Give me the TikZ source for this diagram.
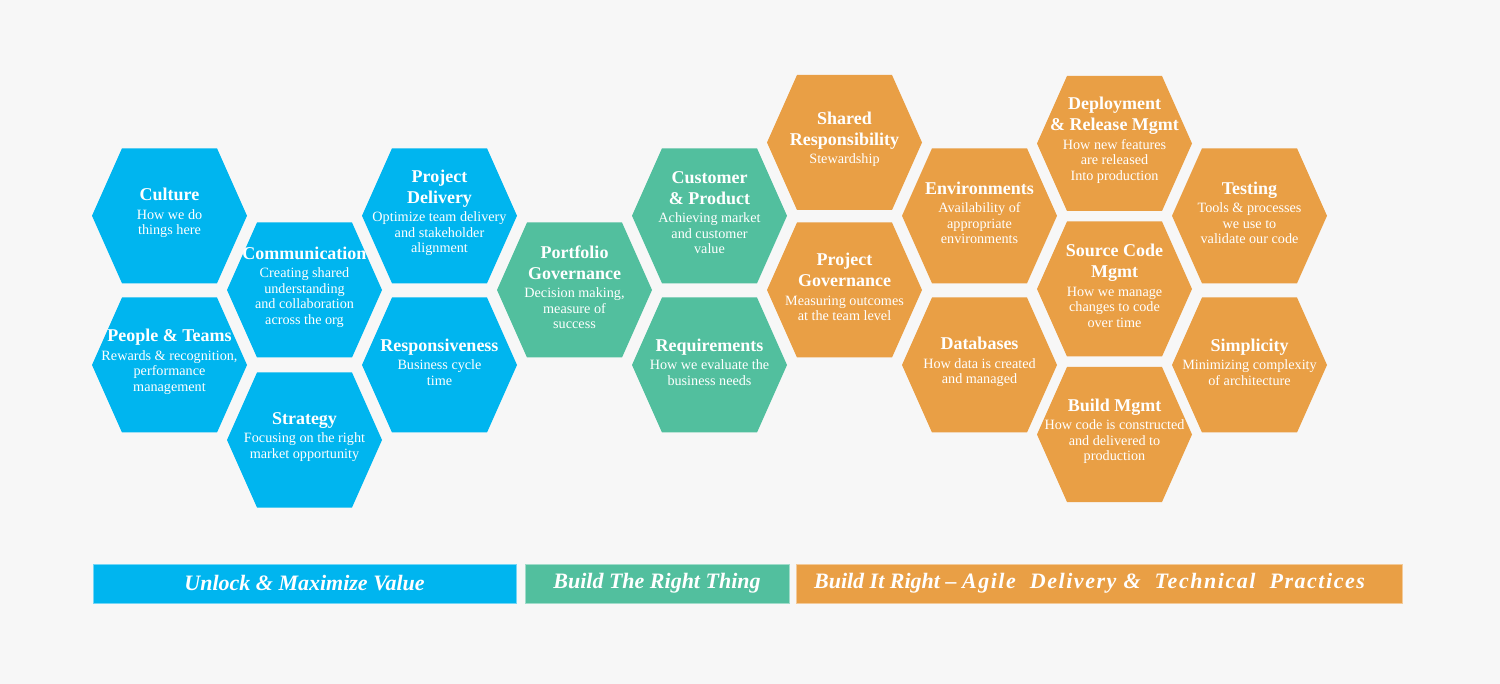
\documentclass[tikz,border=0pt]{standalone}
\usepackage{fontspec}
\setmainfont{Liberation Serif}

\definecolor{pagebg}{HTML}{F7F7F7}
\definecolor{valueblue}{HTML}{00B5EF}
\definecolor{thinggreen}{HTML}{52BF9E}
\definecolor{craftorange}{HTML}{E99F45}

\newcommand\hextitle{\fontsize{18}{21}\selectfont\bfseries}
\newcommand\hexbody{\normalfont\fontsize{14.2}{15.5}\selectfont}

\tikzset{
  hexlabel/.style={inner sep=0pt, text=white},
  barlabel/.style={inner sep=0pt, text=white,
    font=\fontsize{22}{24}\selectfont\bfseries\itshape},
}

% one hexagonal cell: name, x, y, colour, title, description
\newcommand\hexcell[6]{%
  \begin{scope}[shift={(#2,#3)}]
    \fill[#4] (-77.5,0) -- (-47.5,-67.5) -- (47.5,-67.5) -- (77.5,0)
              -- (47.5,67.5) -- (-47.5,67.5) -- cycle;
    \node[hexlabel] (#1) at (0,-3)
      {\parbox{220pt}{\centering{\hextitle #5\par}\vspace{3pt}{\hexbody #6\par}}};
  \end{scope}}

\begin{document}
\begin{tikzpicture}[x=1pt,y=-1pt]
  \fill[pagebg] (0,0) rectangle (1500,684);
  \useasboundingbox (0,0) rectangle (1500,684);

  % Unlock & Maximize Value
  \hexcell{culture}{169.5}{215.8}{valueblue}{Culture}{How we do\\things here}
  \hexcell{people}{169.5}{365}{valueblue}{People \& Teams}{Rewards \& recognition,\\performance\\management}
  \hexcell{communication}{304.5}{290}{valueblue}{Communication}{Creating shared\\understanding\\and collaboration\\across the org}
  \hexcell{strategy}{304.5}{440}{valueblue}{Strategy}{Focusing on the right\\market opportunity}
  \hexcell{projdelivery}{439.5}{215.8}{valueblue}{Project\\Delivery}{Optimize team delivery\\and stakeholder\\alignment}
  \hexcell{responsiveness}{439.5}{365}{valueblue}{Responsiveness}{Business cycle\\time}

  % Build The Right Thing
  \hexcell{portfolio}{574.5}{290}{thinggreen}{Portfolio\\Governance}{Decision making,\\measure of\\success}
  \hexcell{customer}{709.5}{215.8}{thinggreen}{Customer\\\& Product}{Achieving market\\and customer\\value}
  \hexcell{requirements}{709.5}{365}{thinggreen}{Requirements}{How we evaluate the\\business needs}

  % Build It Right
  \hexcell{shared}{844.5}{142.5}{craftorange}{Shared\\Responsibility}{Stewardship}
  \hexcell{projgov}{844.5}{290}{craftorange}{Project\\Governance}{Measuring outcomes\\at the team level}
  \hexcell{environments}{979.5}{215.8}{craftorange}{Environments}{Availability of\\appropriate\\environments}
  \hexcell{databases}{979.5}{365}{craftorange}{Databases}{How data is created\\and managed}
  \hexcell{deployment}{1114.5}{143.5}{craftorange}{Deployment\\\& Release Mgmt}{How new features\\are released\\Into production}
  \hexcell{sourcecode}{1114.5}{289}{craftorange}{Source Code\\Mgmt}{How we manage\\changes to code\\over time}
  \hexcell{buildmgmt}{1114.5}{434.5}{craftorange}{Build Mgmt}{How code is constructed\\and delivered to\\production}
  \hexcell{testing}{1249.5}{215.8}{craftorange}{Testing}{Tools \& processes\\we use to\\validate our code}
  \hexcell{simplicity}{1249.5}{365}{craftorange}{Simplicity}{Minimizing complexity\\of architecture}

  % category bars
  \fill[valueblue, draw=white!45!valueblue, line width=0.8pt] (93,564) rectangle (516,603);
  \fill[thinggreen, draw=white!45!thinggreen, line width=0.8pt] (525,564) rectangle (789,603);
  \fill[craftorange, draw=white!45!craftorange, line width=0.8pt] (796,564) rectangle (1402,603);
  \node[barlabel] (unlockbar) at (304.5,583.5) {Unlock \& Maximize Value};
  \node[barlabel] (rightthingbar) at (657,583.5) {Build The Right Thing};
  \node[barlabel] (itrightbar) at (1089.5,583.5)
    {Build It Right -- {\addfontfeatures{LetterSpace=7}Agile\ \ Delivery \&\ \ Technical\ \ Practices}};
\end{tikzpicture}
\end{document}
